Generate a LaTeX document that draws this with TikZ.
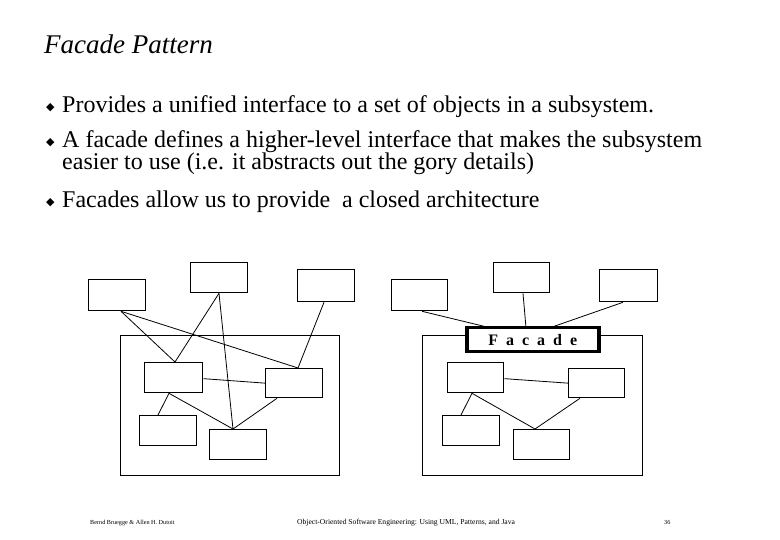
\documentclass[tikz,border=0pt]{standalone}
\usepackage{fontspec}
\setmainfont{Liberation Serif}
\newfontfamily\symf{DejaVu Sans}
\begin{document}
\begin{tikzpicture}[x=1pt,y=-1pt,
  bx/.style={draw,line width=1.3pt,anchor=north west,inner sep=0pt},
  frm/.style={draw,line width=1.2pt,anchor=north west,inner sep=0pt},
  ln/.style={line width=0.8pt},
  bul/.style={anchor=base west,inner sep=0pt,font=\symf\fontsize{11}{12}\selectfont},
  txt/.style={anchor=base west,inner sep=0pt,font=\fontsize{24}{26}\selectfont},
  foot/.style={anchor=base west,inner sep=0pt}]
\useasboundingbox (0,0) rectangle (780,540);
\fill[white] (0,0) rectangle (780,540);
\node[anchor=base west,inner sep=0pt,font=\itshape\fontsize{27}{28}\selectfont] (title) at (44,54) {Facade Pattern};
\node[bul] (b1) at (46,111) {◆};
\node[txt] (t1) at (62,113) {Provides a unified interface to a set of objects in a subsystem.};
\node[bul] (b2) at (46,146) {◆};
\node[txt] (t2) at (62,148) {A facade defines a higher-level interface that makes the subsystem};
\node[txt] (t2b) at (62,170) {easier to use (i.e. it abstracts out the gory details)};
\node[bul] (b3) at (46,206) {◆};
\node[txt] (t3) at (62,208) {Facades allow us to provide\ \ a closed architecture};
% left
\node[frm,minimum width=219pt,minimum height=140pt] (LF) at (120,335) {};
\node[bx,minimum width=57pt,minimum height=31pt] (LA) at (88,279) {};
\node[bx,minimum width=57pt,minimum height=30pt] (LB) at (190,262) {};
\node[bx,minimum width=57pt,minimum height=32pt] (LC) at (297,269) {};
\node[bx,minimum width=58pt,minimum height=30pt] (LD) at (144,362) {};
\node[bx,minimum width=57pt,minimum height=29pt] (LE) at (265,368) {};
\node[bx,minimum width=57pt,minimum height=30pt] (LF2) at (139,415) {};
\node[bx,minimum width=57pt,minimum height=30pt] (LG) at (209,429) {};
\draw[ln] ([xshift=33pt]LA.south west) -- ([xshift=31pt]LD.north west);
\draw[ln] ([xshift=33pt]LA.south west) -- ([xshift=33pt]LE.north west);
\draw[ln] ([xshift=29pt]LB.south west) -- ([xshift=31pt]LD.north west);
\draw[ln] ([xshift=29pt]LB.south west) -- ([xshift=24pt]LG.north west);
\draw[ln] ([xshift=27pt]LC.south west) -- ([xshift=33pt]LE.north west);
\draw[ln] ([yshift=-1pt]LD.east) -- (LE.west);
\draw[ln] ([xshift=25pt]LD.south west) -- ([xshift=19pt]LF2.north west);
\draw[ln] ([xshift=25pt]LD.south west) -- ([xshift=24pt]LG.north west);
\draw[ln] ([xshift=12pt]LE.south west) -- ([xshift=24pt]LG.north west);
% right
\node[frm,minimum width=220pt,minimum height=140pt] (RF) at (422,335) {};
\node[draw,line width=3.5pt,fill=white,anchor=north west,inner sep=0pt,minimum width=132pt,minimum height=24pt,font=\bfseries\fontsize{16}{16}\selectfont] (FAC) at (465,326) {F\,\,\,a\,\,\,c\,\,\,a\,\,\,d\,\,\,e};
\node[bx,minimum width=56pt,minimum height=31pt] (RA) at (391,279) {};
\node[bx,minimum width=56pt,minimum height=30pt] (RB) at (493,262) {};
\node[bx,minimum width=58pt,minimum height=32pt] (RC) at (599,269) {};
\node[bx,minimum width=56pt,minimum height=30pt] (RD) at (447,362) {};
\node[bx,minimum width=56pt,minimum height=29pt] (RE) at (568,368) {};
\node[bx,minimum width=57pt,minimum height=30pt] (RF2) at (442,415) {};
\node[bx,minimum width=56pt,minimum height=30pt] (RG) at (513,429) {};
\draw[ln] ([xshift=31pt]RA.south west) -- ([xshift=25pt,yshift=-1.75pt]FAC.north west);
\draw[ln] ([xshift=30pt]RB.south west) -- ([xshift=61pt,yshift=-1.75pt]FAC.north west);
\draw[ln] ([xshift=24pt]RC.south west) -- ([xshift=85pt,yshift=-1.75pt]FAC.north west);
\draw[ln] ([yshift=-1pt]RD.east) -- (RE.west);
\draw[ln] ([xshift=25pt]RD.south west) -- ([xshift=19pt]RF2.north west);
\draw[ln] ([xshift=25pt]RD.south west) -- ([xshift=22pt]RG.north west);
\draw[ln] ([xshift=12pt]RE.south west) -- ([xshift=22pt]RG.north west);
% footer
\node[foot,font=\fontsize{6.2}{7}\selectfont] (f1) at (90,524) {Bernd Bruegge \& Allen H. Dutoit};
\node[foot,font=\fontsize{7.6}{8}\selectfont] (f2) at (297,524) {Object-Oriented Software Engineering: Using UML, Patterns, and Java};
\node[foot,font=\fontsize{6.2}{7}\selectfont] (f3) at (664,524) {36};
\end{tikzpicture}
\end{document}
